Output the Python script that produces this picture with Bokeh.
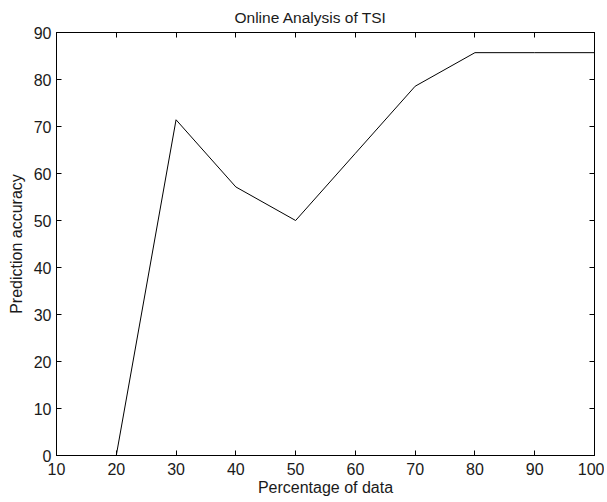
from bokeh.plotting import figure
from bokeh.models import LinearAxis, FixedTicker, Range1d
from bokeh.embed import file_html
from bokeh.resources import INLINE

percent_data = [20, 30, 40, 50, 60, 70, 80, 90, 100]
accuracy = [0.0, 71.43, 57.14, 50.0, 64.29, 78.57, 85.71, 85.71, 85.71]
x_ticks = [10, 20, 30, 40, 50, 60, 70, 80, 90, 100]
y_ticks = [0, 10, 20, 30, 40, 50, 60, 70, 80, 90]

FONT = "Liberation Sans"
TXT = "#1a1a1a"

p = figure(width=604, height=499, output_backend="svg", toolbar_location=None,
           x_range=Range1d(10, 100), y_range=Range1d(0, 90),
           min_border_left=56, min_border_right=10, min_border_top=31, min_border_bottom=44,
           title="Online Analysis of TSI")
p.title.align = "left"
p.title.offset = 178
p.title.text_font = FONT
p.title.text_font_size = "15.5px"
p.title.text_font_style = "normal"
p.title.text_color = TXT
p.title.standoff = 13

p.grid.visible = False
p.outline_line_color = "black"
p.outline_line_width = 1
p.background_fill_color = "white"
p.border_fill_color = "white"

p.line(percent_data, accuracy, line_color="black", line_width=1)

for ax in (p.xaxis[0], p.yaxis[0]):
    ax.major_tick_in = 5
    ax.major_tick_out = 0
    ax.minor_tick_in = 0
    ax.minor_tick_out = 0
    ax.axis_line_color = "black"
    ax.major_label_text_font = FONT
    ax.major_label_text_font_size = "16px"
    ax.major_label_text_color = TXT
    ax.axis_label_text_font = FONT
    ax.axis_label_text_font_size = "16px"
    ax.axis_label_text_font_style = "normal"
    ax.axis_label_text_color = TXT

p.xaxis[0].ticker = FixedTicker(ticks=x_ticks)
p.yaxis[0].ticker = FixedTicker(ticks=y_ticks)
p.xaxis[0].axis_label = "Percentage of data"
p.yaxis[0].axis_label = "Prediction accuracy"
p.xaxis[0].major_label_standoff = 7
p.xaxis[0].axis_label_standoff = 1
p.yaxis[0].major_label_standoff = 5
p.yaxis[0].axis_label_standoff = 6

top = LinearAxis(ticker=FixedTicker(ticks=x_ticks), major_label_text_font_size="0px",
                 major_tick_in=5, major_tick_out=0, minor_tick_in=0, minor_tick_out=0,
                 axis_line_color="black")
top.major_label_text_alpha = 0
right = LinearAxis(ticker=FixedTicker(ticks=y_ticks), major_label_text_font_size="0px",
                   major_tick_in=5, major_tick_out=0, minor_tick_in=0, minor_tick_out=0,
                   axis_line_color="black")
right.major_label_text_alpha = 0
p.add_layout(top, "above")
p.add_layout(right, "right")

open("out.html", "w").write(file_html(p, INLINE))
